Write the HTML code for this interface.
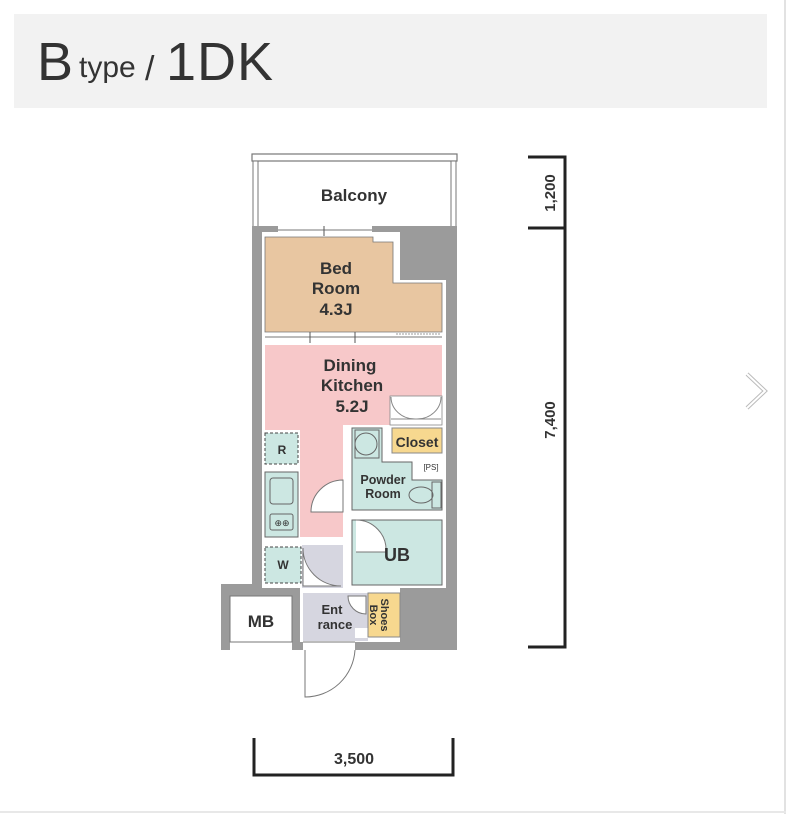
<!DOCTYPE html>
<html><head><meta charset="utf-8"><style>
html,body{margin:0;padding:0;background:#fff;width:786px;height:814px;overflow:hidden}
svg{display:block}
text{font-family:"Liberation Sans","DejaVu Sans",sans-serif;fill:#333;font-weight:bold}
</style></head><body>
<svg width="786" height="814" viewBox="0 0 786 814" xmlns="http://www.w3.org/2000/svg">
<rect x="0" y="0" width="786" height="814" fill="#fff"/>
<line x1="785" y1="0" x2="785" y2="814" stroke="#e2e2e2" stroke-width="2"/>
<line x1="0" y1="812" x2="786" y2="812" stroke="#e8e8e8" stroke-width="2"/>
<rect x="14" y="14" width="753" height="94" fill="#f2f2f2"/>
<text x="37" y="80" font-size="54" style="font-weight:normal">B</text>
<text x="79" y="77" font-size="30" style="font-weight:normal">type</text>
<text x="145" y="80" font-size="34" style="font-weight:normal">/</text>
<text x="166" y="80" font-size="54" style="font-weight:normal" letter-spacing="1">1DK</text>

<!-- balcony -->
<rect x="252" y="154" width="205" height="7" fill="#fff" stroke="#777" stroke-width="1.2"/>
<rect x="253" y="161" width="5" height="66" fill="#fff" stroke="#777" stroke-width="1"/>
<rect x="451" y="161" width="5" height="66" fill="#fff" stroke="#777" stroke-width="1"/>
<text x="354" y="201" font-size="17" text-anchor="middle">Balcony</text>

<!-- main walls -->
<rect x="252" y="226" width="205" height="424" fill="#9b9b9b"/>
<rect x="221" y="584" width="80" height="66" fill="#9b9b9b"/>
<rect x="230" y="596" width="62" height="46" fill="#fff" stroke="#777" stroke-width="1"/>
<rect x="230" y="642" width="62" height="8" fill="#fff"/>
<line x1="230" y1="642" x2="292" y2="642" stroke="#777"/>
<text x="261" y="627" font-size="17" text-anchor="middle">MB</text>
<!-- interior white -->
<rect x="262" y="232" width="184" height="356" fill="#fff"/>
<rect x="300" y="588" width="100" height="54" fill="#fff"/>
<rect x="400" y="226" width="57" height="54" fill="#9b9b9b"/>
<rect x="400" y="588" width="57" height="62" fill="#9b9b9b"/>
<!-- window at top of bedroom -->
<rect x="278" y="226" width="94" height="8" fill="#fff"/>
<line x1="278" y1="230" x2="372" y2="230" stroke="#777"/>
<line x1="324" y1="226" x2="324" y2="236" stroke="#555"/>

<!-- bedroom -->
<polygon points="265,237 373,237 373,242 393,242 393,283 442,283 442,332 265,332" fill="#e8c6a1" stroke="#777" stroke-width="0.8"/>
<text x="336" y="274" font-size="17" text-anchor="middle">Bed</text>
<text x="336" y="294" font-size="17" text-anchor="middle">Room</text>
<text x="336" y="315" font-size="17" text-anchor="middle">4.3J</text>
<line x1="265" y1="337" x2="442" y2="337" stroke="#777"/>
<line x1="310" y1="332" x2="310" y2="343" stroke="#555"/>
<line x1="355" y1="332" x2="355" y2="343" stroke="#555"/>
<line x1="396" y1="334" x2="440" y2="334" stroke="#999" stroke-dasharray="2,1"/>

<!-- dining -->
<polygon points="265,345 442,345 442,425 343,425 343,537 300,537 300,430 265,430" fill="#f7c8c9"/>
<rect x="390" y="396" width="52" height="29" fill="#fff" stroke="#888" stroke-width="0.8"/>
<path d="M391,397 A24,22 0 0 0 415,419 M441,397 A24,22 0 0 1 417,419" fill="none" stroke="#888"/>
<line x1="391" y1="419" x2="441" y2="419" stroke="#888"/>
<text x="350" y="371" font-size="17" text-anchor="middle">Dining</text>
<text x="352" y="391" font-size="17" text-anchor="middle">Kitchen</text>
<text x="352" y="412" font-size="17" text-anchor="middle">5.2J</text>

<!-- R box -->
<rect x="265" y="433" width="33" height="31" fill="#cce7e2" stroke="#444" stroke-dasharray="3,2"/>
<text x="282" y="454" font-size="12" text-anchor="middle">R</text>
<!-- kitchen counter -->
<rect x="265" y="472" width="33" height="65" fill="#cce7e2" stroke="#666"/>
<rect x="270" y="478" width="23" height="26" rx="3" fill="none" stroke="#666"/>
<rect x="270" y="514" width="23" height="16" rx="2" fill="none" stroke="#666"/>
<text x="282" y="526" font-size="9" text-anchor="middle" style="font-weight:normal">⊕⊕</text>
<!-- W box -->
<rect x="265" y="547" width="36" height="36" fill="#cce7e2" stroke="#444" stroke-dasharray="3,2"/>
<text x="283" y="569" font-size="12" text-anchor="middle">W</text>
<!-- hallway -->
<rect x="302" y="545" width="41" height="43" fill="#d6d6e0"/>
<path d="M303,548 A38,38 0 0 0 341,586 L303,586 Z" fill="#fff" stroke="#777"/>
<!-- door in dining -->
<path d="M343,480 A32,32 0 0 0 311,512 L343,512 Z" fill="#fff" stroke="#777"/>

<!-- powder room -->
<polygon points="352,428 382,428 382,462 412,462 412,480 442,480 442,510 352,510" fill="#cce7e2" stroke="#666"/>
<circle cx="366" cy="444" r="11" fill="none" stroke="#666"/>
<rect x="355" y="430" width="24" height="28" fill="none" stroke="#666"/>
<rect x="432" y="482" width="9" height="26" fill="none" stroke="#666"/>
<ellipse cx="421" cy="495" rx="12" ry="8" fill="none" stroke="#666"/>
<text x="383" y="484" font-size="12.5" text-anchor="middle">Powder</text>
<text x="383" y="498" font-size="12.5" text-anchor="middle">Room</text>
<text x="431" y="470" font-size="8" text-anchor="middle" style="font-weight:normal">[PS]</text>
<!-- closet -->
<rect x="392" y="428" width="50" height="25" fill="#f7d88f" stroke="#888"/>
<text x="417" y="447" font-size="14" text-anchor="middle">Closet</text>
<!-- UB -->
<rect x="352" y="520" width="90" height="65" fill="#cce7e2" stroke="#666"/>
<path d="M356,520 A30,30 0 0 1 386,552 L356,552" fill="#fff" stroke="#777"/>
<text x="397" y="561" font-size="18" text-anchor="middle">UB</text>

<!-- entrance -->
<rect x="303" y="593" width="65" height="48" fill="#d6d6e0"/>
<path d="M348,596 A18,18 0 0 0 366,614 L366,596 Z" fill="#fff" stroke="#777"/>
<rect x="355" y="628" width="13" height="10" fill="#fff"/>
<text x="332" y="614" font-size="13" text-anchor="middle">Ent</text>
<text x="335" y="629" font-size="13" text-anchor="middle">rance</text>
<rect x="368" y="593" width="32" height="44" fill="#f7d88f" stroke="#888"/>
<text font-size="11" transform="translate(381,615) rotate(90)" text-anchor="middle">Shoes</text>
<text font-size="11" transform="translate(370,615) rotate(90)" text-anchor="middle">Box</text>
<!-- bottom openings -->
<rect x="303" y="642" width="52" height="8" fill="#fff"/>
<line x1="303" y1="642" x2="355" y2="642" stroke="#777"/>
<path d="M305,650 L305,697 A50,50 0 0 0 355,650" fill="none" stroke="#777"/>

<!-- dimension lines -->
<path d="M528,157 L565,157 L565,647 L528,647 M528,228 L565,228" fill="none" stroke="#222" stroke-width="3"/>
<text font-size="15" transform="translate(555,193) rotate(-90)" text-anchor="middle">1,200</text>
<text font-size="15" transform="translate(555,420) rotate(-90)" text-anchor="middle">7,400</text>
<path d="M254,738 L254,775 L453,775 L453,738" fill="none" stroke="#222" stroke-width="3"/>
<text x="354" y="764" font-size="16" text-anchor="middle">3,500</text>

<!-- chevron -->
<path d="M747,374 L765,391 L747,408" fill="none" stroke="#bbb" stroke-width="4"/>
<path d="M747,374 L765,391 L747,408" fill="none" stroke="#fff" stroke-width="2"/>
</svg>
</body></html>
